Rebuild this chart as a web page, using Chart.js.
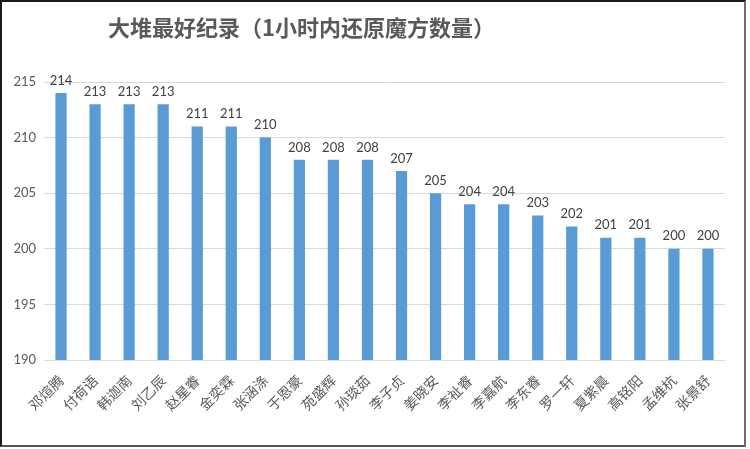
<!DOCTYPE html>
<html>
<head>
<meta charset="utf-8">
<script src="https://cdn.jsdelivr.net/npm/chart.js@4/dist/chart.umd.min.js"></script>
<style>
	html, body { margin: 0; padding: 0; background: #fff; }
	#frame {
		width: 742px; height: 443px;
		border-top: 2px solid #1a1a1a; border-left: 2px solid #1a1a1a;
		border-right: 2px solid #6e6e6e; border-bottom: 2px solid #555;
	}
	canvas { display: block; }
</style>
</head>
<body>
<div id="frame"><canvas id="recordChart" width="742" height="443"></canvas></div>
<script>
// 이름과 기록
const names = ['邓煊腾', '付荷语', '韩迦南', '刘乙辰', '赵星睿', '金奕霖', '张涵涤', '于恩豪', '苑盛辉', '孙琰茹',
	'李子贞', '姜晓安', '李祉睿', '李嘉航', '李东睿', '罗一轩', '夏紫晨', '高铭阳', '孟维杭', '张景舒'];
const records = [214, 213, 213, 213, 211, 211, 210, 208, 208, 208, 207, 205, 204, 204, 203, 202, 201, 201, 200, 200];
const yTicks = [190, 195, 200, 205, 210, 215];
const titleText = '大堆最好纪录（1小时内还原魔方数量）';

// 제목 그리기
const titlePlugin = {
	id: 'leftTitle',
	afterDraw(chart) {
		let ctx = chart.ctx;
		ctx.save();
		ctx.font = 'bold 22px "Noto Sans CJK SC"';
		ctx.fillStyle = '#595959';
		ctx.textAlign = 'left';
		ctx.textBaseline = 'middle';
		ctx.fillText(titleText, chart.chartArea.left + 64, 26);
		ctx.restore();
	}
};

// 막대 위 값 표시
const valueLabels = {
	id: 'valueLabels',
	afterDatasetsDraw(chart) {
		let ctx = chart.ctx;
		ctx.save();
		ctx.font = '13px Lato';
		ctx.fillStyle = '#404040';
		ctx.textAlign = 'center';
		ctx.textBaseline = 'bottom';
		chart.getDatasetMeta(0).data.forEach(function(bar, i) {
			ctx.fillText(records[i], bar.x, bar.y - 6);
		});
		ctx.restore();
	}
};

new Chart(document.getElementById('recordChart'), {
	type: 'bar',
	data: {
		labels: names,
		datasets: [{
			data: records,
			backgroundColor: '#5b9bd5',
			barPercentage: 0.33,
			categoryPercentage: 1
		}]
	},
	options: {
		responsive: false,
		animation: false,
		layout: { padding: { top: 80, right: 19, left: 0, bottom: 0 } },
		plugins: {
			legend: { display: false },
			tooltip: { enabled: false }
		},
		scales: {
			x: {
				grid: { display: false },
				border: { display: false },
				afterFit: (scale) => { scale.height = 85; },
				ticks: {
					autoSkip: false,
					minRotation: 45,
					maxRotation: 45,
					padding: 4,
					color: '#595959',
					font: { family: '"Noto Sans CJK SC"', size: 14 }
				}
			},
			y: {
				min: yTicks[0],
				max: yTicks[yTicks.length - 1],
				afterFit: (scale) => { scale.width = 42; },
				afterBuildTicks: (scale) => { scale.ticks = yTicks.map(v => ({ value: v })); },
				grid: { color: '#d9d9d9', drawTicks: false },
				border: { display: false },
				ticks: {
					padding: 8,
					color: '#595959',
					font: { family: 'Lato', size: 13 }
				}
			}
		}
	},
	plugins: [titlePlugin, valueLabels]
});
</script>
</body>
</html>
